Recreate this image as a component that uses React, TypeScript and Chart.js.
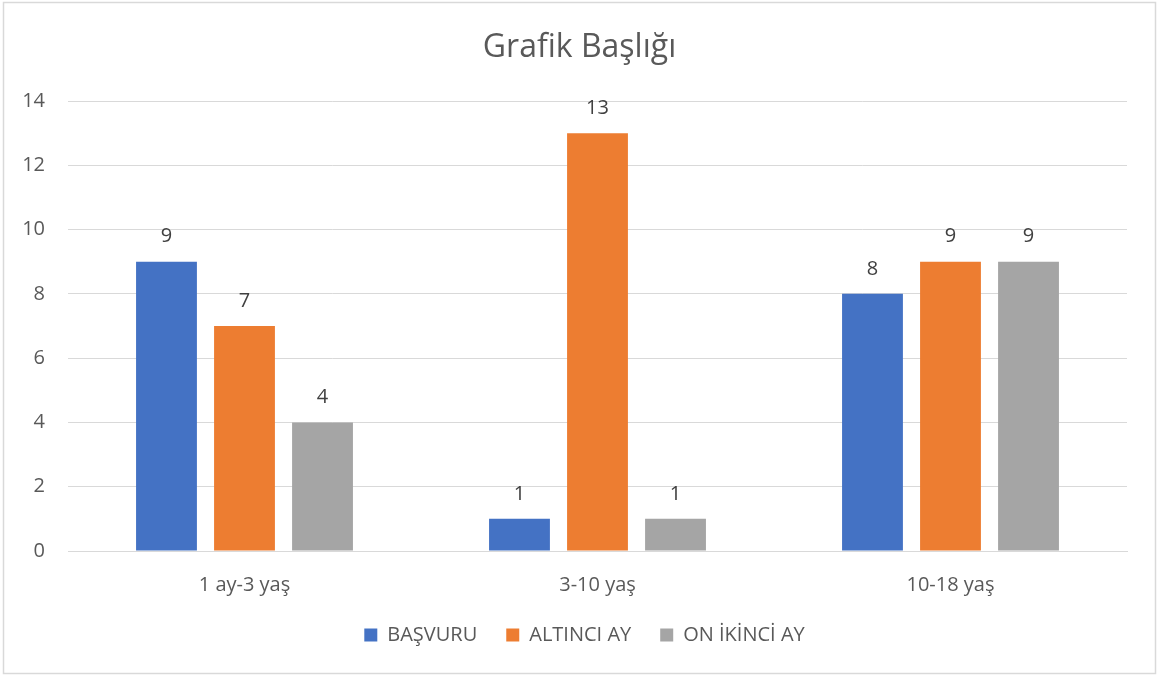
import React, { useEffect, useRef } from "react";
import { Chart, registerables } from "chart.js";

Chart.register(...registerables);

const chartTitle = "Grafik Başlığı";
const categories = ["1 ay-3 yaş", "3-10 yaş", "10-18 yaş"];
const seriesNames = ["BAŞVURU", "ALTINCI AY", "ON İKİNCİ AY"];
const basvuru = [9, 1, 8];
const altinciAy = [7, 13, 9];
const onIkinciAy = [4, 1, 9];
const yMin = 0;
const yMax = 14;
const yStep = 2;

const seriesColors = ["#4472C4", "#ED7D31", "#A5A5A5"];
const FONT = "'Open Sans', 'Noto Sans', sans-serif";
const TEXT = "#595959";
const GRID = "#D9D9D9";

const borderPlugin = {
  id: "outerBorder",
  beforeDraw(chart: any) {
    const ctx = chart.ctx;
    ctx.save();
    ctx.fillStyle = "#ffffff";
    ctx.fillRect(0, 0, chart.width, chart.height);
    ctx.strokeStyle = GRID;
    ctx.lineWidth = 1.5;
    ctx.strokeRect(3.5, 2.5, chart.width - 5, chart.height - 4);
    ctx.restore();
  },
};

const boxShiftPlugin = {
  id: "boxShift",
  afterLayout(chart: any) {
    if (chart.legend) {
      chart.legend.left += 19;
      chart.legend.right += 19;
    }
    if (chart.titleBlock) {
      chart.titleBlock.left += 14;
      chart.titleBlock.right += 14;
    }
  },
};

const valueLabelPlugin = {
  id: "valueLabels",
  afterDatasetsDraw(chart: any) {
    const ctx = chart.ctx;
    ctx.save();
    ctx.font = `20px ${FONT}`;
    ctx.fillStyle = "#404040";
    ctx.textAlign = "center";
    ctx.textBaseline = "middle";
    chart.data.datasets.forEach((ds: any, i: number) => {
      const meta = chart.getDatasetMeta(i);
      meta.data.forEach((bar: any, j: number) => {
        ctx.fillText(String(ds.data[j]), bar.x, bar.y - 25);
      });
    });
    ctx.restore();
  },
};

export default function App() {
  const ref = useRef<HTMLCanvasElement | null>(null);

  useEffect(() => {
    if (!ref.current) return;
    const chart = new Chart(ref.current, {
      type: "bar",
      data: {
        labels: categories,
        datasets: [
          { label: seriesNames[0], data: basvuru, backgroundColor: seriesColors[0] },
          { label: seriesNames[1], data: altinciAy, backgroundColor: seriesColors[1] },
          { label: seriesNames[2], data: onIkinciAy, backgroundColor: seriesColors[2] },
        ],
      },
      options: {
        responsive: false,
        animation: false,
        devicePixelRatio: 1,
        datasets: {
          bar: { categoryPercentage: 0.663, barPercentage: 0.78 },
        },
        layout: { padding: { left: 4, right: 30, top: 0, bottom: 20 } },
        plugins: {
          title: {
            display: true,
            text: chartTitle,
            color: TEXT,
            font: { family: FONT, size: 32, weight: "normal" },
            padding: { top: 29, bottom: 33.6 },
          },
          legend: {
            display: true,
            position: "bottom",
            labels: {
              color: TEXT,
              font: { family: FONT, size: 20 },
              boxWidth: 13,
              boxHeight: 13,
              padding: 29,
            },
          },
          tooltip: { enabled: false },
        },
        scales: {
          x: {
            grid: { display: false, drawTicks: false },
            border: { display: true, color: GRID, width: 1 },
            ticks: { color: TEXT, font: { family: FONT, size: 20 }, padding: 22 },
            afterFit(scale: any) {
              scale.height = 45;
            },
          },
          y: {
            min: yMin,
            max: yMax,
            ticks: { stepSize: yStep, color: TEXT, font: { family: FONT, size: 20 }, padding: 23 },
            grid: { color: GRID, lineWidth: 1, drawTicks: false },
            border: { display: false },
            afterFit(scale: any) {
              scale.width = 64;
            },
          },
        },
      },
      plugins: [borderPlugin, boxShiftPlugin, valueLabelPlugin],
    } as any);
    return () => chart.destroy();
  }, []);

  return (
    <div style={{ position: "absolute", left: 0, top: 0, width: 1157, height: 675 }}>
      <canvas ref={ref} width={1157} height={675} style={{ display: "block" }} />
    </div>
  );
}
